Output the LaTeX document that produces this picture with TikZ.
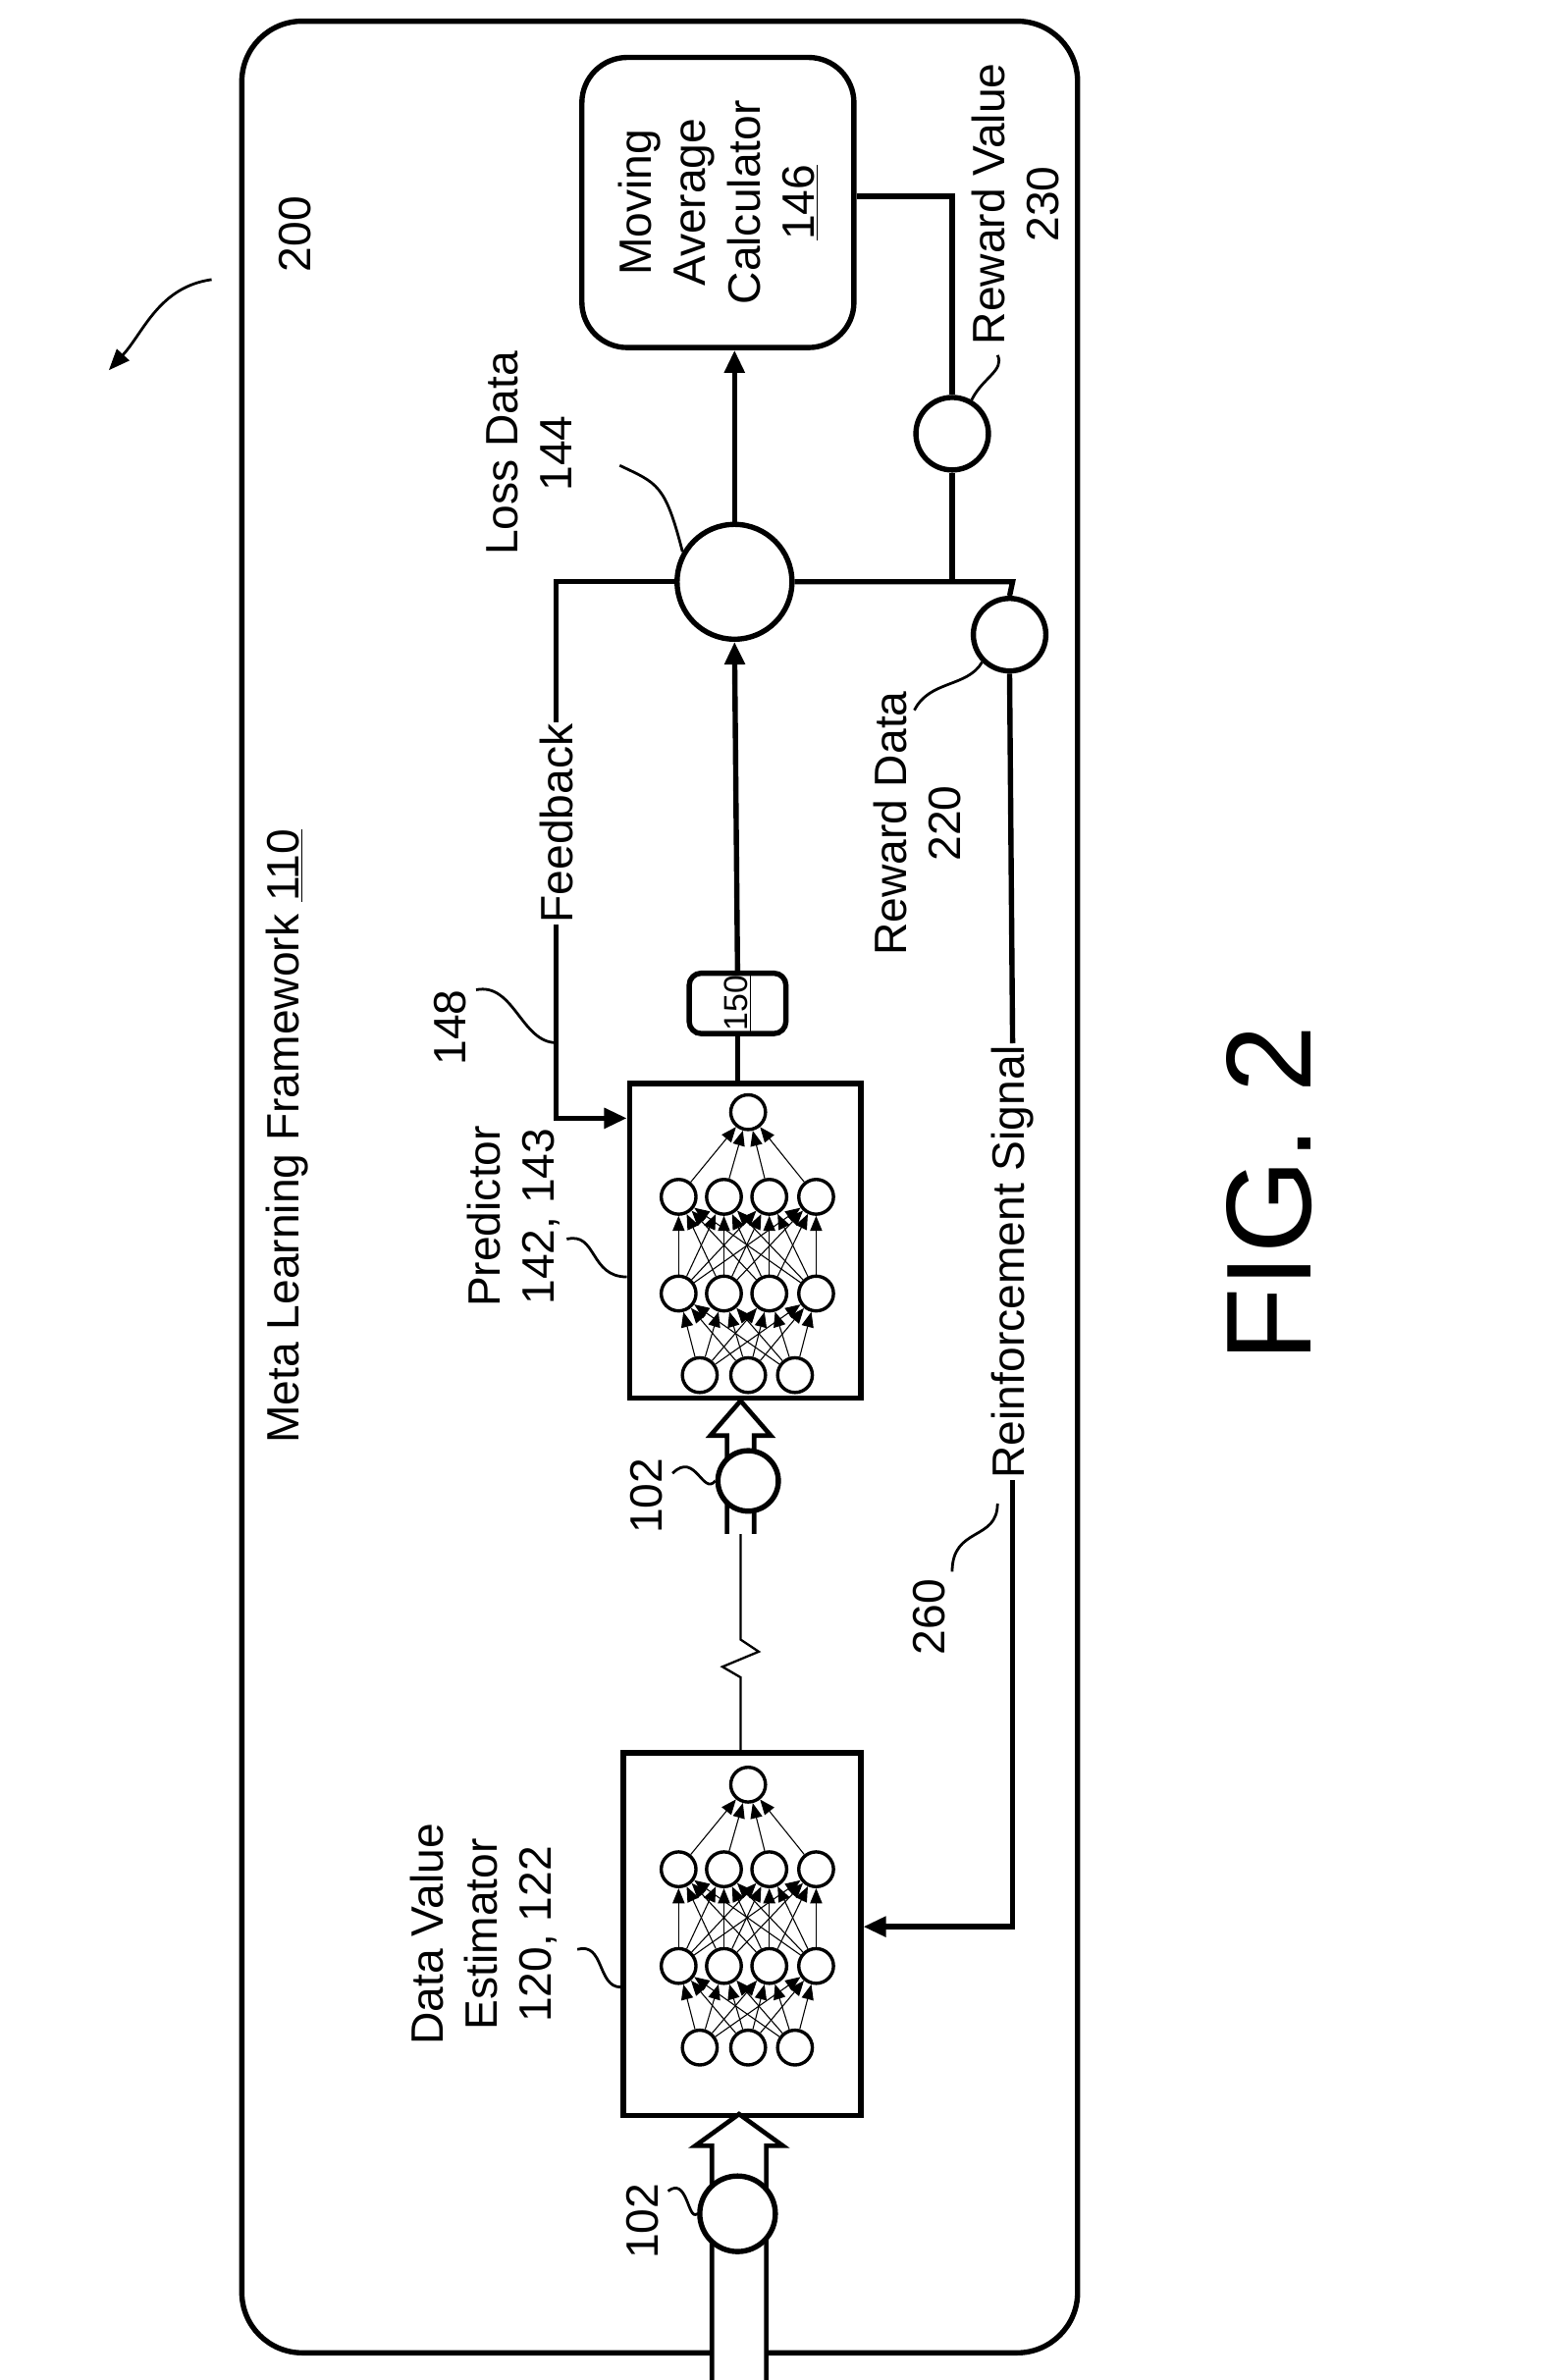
\documentclass[tikz,border=0pt]{standalone}
\usepackage{fontspec}
\setmainfont{Liberation Sans}
\usetikzlibrary{arrows.meta}
\begin{document}
\begin{tikzpicture}[x=1pt,y=-1pt,
  thick line/.style={line width=3.5pt},
  lbl/.style={rotate=90,font=\fontsize{30}{36}\selectfont,align=center,inner sep=2pt},
  nn/.style={circle,draw,line width=2.2pt,minimum size=23pt,inner sep=0pt},
  nnedge/.style={line width=0.7pt,-{Triangle[length=10pt,width=8pt]}},
  circ/.style={circle,draw,line width=3.5pt,inner sep=0pt},
  sq/.style={line width=1.8pt},
  arr/.style={thick line,-{Triangle[length=15pt,width=13pt]}}]
\useasboundingbox (0,0) rectangle (1024,1575);
\draw[thick line,rounded corners=40pt] (160,14) rectangle (713,1557);
\node[lbl] at (190,752) {Meta Learning Framework \underline{110}};
% 200
\node[lbl] (l200) at (195,155) {200};
\draw[sq,-{Triangle[length=14pt,width=11pt]}] (140,185) .. controls (105,190) and (95,220) .. (72,245);
% Moving average calculator
\node[draw,thick line,rounded corners=30pt,minimum width=180pt,minimum height=192pt] (mac) at (475,134) {};
\node[lbl] at (mac.center) {Moving\\Average\\Calculator\\\underline{146}};
% loss
\node[circ,minimum size=76pt] (loss) at (486,385) {};
\draw[arr] (loss.north) -- (loss.north |- mac.south);
\node[lbl] (lloss) at (350,300) {Loss Data\\144};
\draw[sq] (loss.150) .. controls (440,320) and (435,320) .. (410,308);
% reward value
\node[circ,minimum size=48pt] (rv) at (630,287) {};
\coordinate (jr) at (630,385);
\draw[thick line] (mac.east |- 0,130) -- (630,130) -- (rv.north);
\draw[thick line] (rv.south) -- (jr);
\node[lbl] (lrv) at (672,135) {Reward Value\\230};
\draw[sq] (rv.60) .. controls (650,250) and (665,245) .. (660,235);
% reward data
\coordinate (jd) at (670,385);
\node[circ,minimum size=48pt] (rd) at (668,420) {};
\draw[thick line] (loss.east) -- (jd) -- (rd.north);
\node[lbl] (lrd) at (607,545) {Reward Data\\220};
\draw[sq] (rd.south west) .. controls (640,455) and (615,450) .. (605,470);
% predictor box
\node[draw,thick line,minimum width=153pt,minimum height=208pt,inner sep=0pt] (pred) at (493,821) {};
\node[draw,thick line,rounded corners=8pt,minimum width=64pt,minimum height=40pt] (b150) at (488,664) {};
\node[lbl,font=\fontsize{22}{26}\selectfont] at (b150) {\underline{150}};
\draw[thick line] (pred.north -| b150) -- (b150.south);
\draw[arr] (b150.north) -- (loss.south);
% feedback
\coordinate (f1) at (368,385);
\coordinate (f2) at (368,740);
\node[lbl,fill=white,inner sep=1pt] (lfb) at (368,545) {Feedback};
\draw[thick line] (loss.west) -- (f1) -- (lfb.east);
\draw[arr] (lfb.west) -- (f2) -- (pred.west |- f2);
\node[lbl] (l148) at (298,680) {148};
\draw[sq] (315,655) .. controls (340,650) and (345,690) .. (368,690);
\node[lbl] (lpred) at (340,805) {Predictor\\142, 143};
\draw[sq] (375,820) .. controls (395,815) and (390,845) .. (pred.west |- 0,845);
% DVE box
\node[draw,thick line,minimum width=157pt,minimum height=240pt,inner sep=0pt] (dve) at (491,1280) {};
\node[lbl] (ldve) at (320,1280) {Data Value\\Estimator\\120, 122};
\draw[sq] (382,1290) .. controls (400,1285) and (395,1315) .. (dve.west |- 0,1315);
% networks
\foreach \nm/\oy in {p/0,d/445}{
  \foreach \i/\x in {1/463,2/495,3/526} \node[nn] (\nm i\i) at (\x,910+\oy) {};
  \foreach \i/\x in {1/449,2/479,3/509,4/540} {
    \node[nn] (\nm a\i) at (\x,856+\oy) {};
    \node[nn] (\nm b\i) at (\x,792+\oy) {};}
  \node[nn] (\nm o) at (495,736+\oy) {};
  \foreach \s in {1,2,3} \foreach \t in {1,2,3,4} \draw[nnedge] (\nm i\s) -- (\nm a\t);
  \foreach \s in {1,2,3,4} \foreach \t in {1,2,3,4} \draw[nnedge] (\nm a\s) -- (\nm b\t);
  \foreach \s in {1,2,3,4} \draw[nnedge] (\nm b\s) -- (\nm o);
}
% reinforcement signal
\node[lbl,fill=white,inner sep=1pt] (lrs) at (670,835) {Reinforcement Signal};
\coordinate (r2) at (670,1275);
\draw[thick line] (rd.south) -- (lrs.east);
\draw[arr] (lrs.west) -- (r2) -- (dve.east |- r2);
\node[lbl] (l260) at (615,1070) {260};
\draw[sq] (630,1040) .. controls (630,1010) and (660,1020) .. (660,995);
% link with zigzag
\coordinate (z1) at (490,1110);
\coordinate (z2) at (490,1085);
\coordinate (p0) at (490,1015);
\draw[line width=1.5pt] (dve.north -| z1) -- (z1) -- (478,1103) -- (502,1093) -- (z2) -- (p0);
% hollow arrows
\draw[line width=3pt,fill=white] (481,1015) -- (481,950) -- (470,950) -- (490,927) -- (510,950) -- (499,950) -- (499,1015);
\node[circ,fill=white,minimum size=40pt] (c102a) at (495,980) {};
\node[lbl] (l102a) at (428,990) {102};
\draw[sq] (445,975) .. controls (460,960) and (465,990) .. (c102a.west);
\draw[line width=3pt,fill=white] (471,1575) -- (471,1420) -- (460,1420) -- (489,1399) -- (518,1420) -- (507,1420) -- (507,1575);
\node[circ,fill=white,minimum size=50pt] (c102b) at (488,1465) {};
\node[lbl] (l102b) at (425,1470) {102};
\draw[sq] (442,1450) .. controls (455,1440) and (455,1470) .. (c102b.west);
\node[rotate=90,font=\fontsize{80}{90}\selectfont] (fig) at (840,790) {FIG. 2};
\end{tikzpicture}
\end{document}
